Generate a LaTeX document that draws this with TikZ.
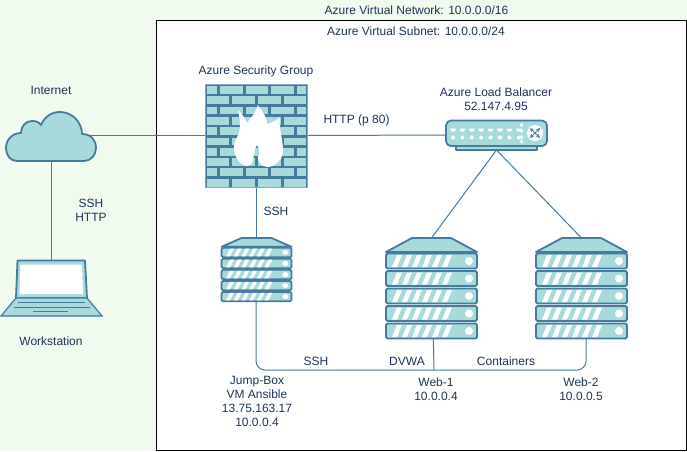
\documentclass[tikz,border=0pt]{standalone}
\usepackage{fontspec}
\setmainfont{Liberation Sans}
\definecolor{dk}{HTML}{457B9D}
\definecolor{lt}{HTML}{A8DADC}
\definecolor{bgg}{HTML}{F1FAEE}
\definecolor{tx}{HTML}{1D3557}
\tikzset{
  anchorbox/.style={inner sep=0pt,outer sep=0pt,draw=none},
  lbl/.style={inner sep=0pt,text=tx,font=\fontsize{12}{14}\selectfont,align=center},
  conn/.style={draw=dk,line width=1pt},
  iconpart/.style={fill=lt,draw=dk,line width=1.8pt,line join=round},
  whitepart/.style={fill=white,draw=none},
  brick/.style={fill=lt,draw=none},
}
\newcommand{\myserver}[4]{% x, ytop, xscale, yscale ; unit 91 wide, 85 tall
  \begin{scope}[shift={(#1,#2)},xscale=#3,yscale=#4]
    \path[iconpart] (0,14) -- (26,0) -- (65,0) -- (91,14) -- cycle;
    \foreach \r in {0,1,2,3,4}{
      \pgfmathsetmacro{\ya}{15.5+17.5*\r}
      \pgfmathsetmacro{\yb}{\ya+15}
      \path[iconpart,rounded corners=1.5pt] (0,\ya) rectangle (91,\yb);
      \foreach \k in {0,1,2,3,4,5}{
        \pgfmathsetmacro{\xa}{6+10*\k}
        \path[whitepart] (\xa,\yb-1.5) -- (\xa+5,\ya+1.5) -- (\xa+10,\ya+1.5) -- (\xa+5,\yb-1.5) -- cycle;
      }
      \path[whitepart] (83,\ya+7.5) ellipse [x radius=4,y radius=4];
    }
  \end{scope}
}
\begin{document}
\begin{tikzpicture}[x=1pt,y=-1pt]
\useasboundingbox (0,0) rectangle (687,451);
\fill[bgg] (0,0) rectangle (687,451);
\fill[white] (156.5,20.5) rectangle (686.5,450.5);
\draw[black,line width=1.3pt] (156.5,20.5) rectangle (686.5,450.5);

% named anchor nodes
\node[anchorbox,minimum width=91pt,minimum height=51pt] (cloud) at (51.5,135.5) {};
\node[anchorbox,minimum width=85pt,minimum height=56pt] (laptop) at (51.5,288) {};
\node[anchorbox,minimum width=102pt,minimum height=103pt] (fw) at (256,135.5) {};
\node[anchorbox,minimum width=101pt,minimum height=30pt] (lb) at (496.5,135) {};
\node[anchorbox,minimum width=70pt,minimum height=64pt] (jump) at (256,269.5) {};
\node[anchorbox,minimum width=91pt,minimum height=86pt] (web1) at (431.5,281) {};
\node[anchorbox,minimum width=91pt,minimum height=86pt] (web2) at (581.5,281) {};
\coordinate (bend) at (256,370);
\coordinate (w1b) at (434,370);

% connectors
\draw[conn] (cloud.center) -- (fw.west);
\draw[conn] (cloud.south) -- (laptop.north);
\draw[conn] (fw.east) -- (lb.west);
\draw[conn] (fw.south) -- (jump.north);
\draw[conn] (lb.south) -- (web1.north);
\draw[conn] (lb.south) -- (web2.north);
\draw[conn,rounded corners=9pt] (jump.south) -- (bend) -| (586,324);
\draw[conn] (433,324) -- (w1b);

% cloud
\path[iconpart] (17,161) .. controls (10,161) and (6,155) .. (6,148)
  .. controls (6,139) and (13,133) .. (21,133)
  .. controls (21,126) and (26,121) .. (32,121)
  .. controls (36,121) and (39,122) .. (41,125)
  .. controls (45,116) and (52,112) .. (60,112)
  .. controls (72,112) and (82,122) .. (82,134)
  .. controls (91,134) and (96,140) .. (96,148)
  .. controls (96,155) and (91,161) .. (84,161) -- cycle;

% laptop
\path[iconpart] (17.5,260.5) -- (85,260.5) -- (87,298) -- (16,298) -- cycle;
\path[whitepart] (20.5,264.5) -- (82,264.5) -- (83,294) -- (19.5,294) -- cycle;
\path[fill=lt,draw=lt,line width=.6pt] (16,298) -- (87,298) -- (102,316) -- (1,316) -- cycle;
\draw[dk,line width=1.2pt] (16,298) -- (1,316) -- (102,316) -- (87,298) -- cycle;
\draw[dk,line width=1pt] (18,302) -- (85,302) (14,307) -- (90,307) (33,311.5) -- (68,311.5);

% firewall
\fill[dk] (205,84) rectangle (307,187);
\draw[dk!65,line width=.8pt] (205,84) rectangle (307,187);
\foreach \r in {0,2,4,6,8}{
  \pgfmathsetmacro{\ya}{86+10.3*\r}
  \pgfmathsetmacro{\yb}{\ya+7.8}
  \foreach \xa/\xb in {207/217,220/243,246/268,271/294,297/305.5}
    \path[brick] (\xa,\ya) rectangle (\xb,\yb);
}
\foreach \r in {1,3,5,7,9}{
  \pgfmathsetmacro{\ya}{86+10.3*\r}
  \pgfmathsetmacro{\yb}{\ya+7.8}
  \foreach \xa/\xb in {207/229,232/255,258/281,284/305.5}
    \path[brick] (\xa,\ya) rectangle (\xb,\yb);
}
\path[whitepart] (258,105) .. controls (262,112) and (267,116) .. (267,124)
  .. controls (273,122) and (277,120) .. (280,117)
  .. controls (278,126) and (283,138) .. (283,150)
  .. controls (283,160) and (275,167) .. (267,167)
  .. controls (261,166) and (258,162) .. (258,157)
  .. controls (260,152) and (259,148) .. (257,145)
  .. controls (254,150) and (254,155) .. (253,160)
  .. controls (252,164) and (250,166) .. (247,166)
  .. controls (240,165) and (234,157) .. (234,148)
  .. controls (234,140) and (240,134) .. (240,127)
  .. controls (240,120) and (239,115) .. (238,110)
  .. controls (242,114) and (245,118) .. (247,123)
  .. controls (251,118) and (256,112) .. (258,105) -- cycle;

% load balancer
\path[iconpart] (456,146) rectangle (537,150);
\path[iconpart,rounded corners=5pt] (446,120.5) rectangle (547,146);
\foreach \k in {0,...,7}{
  \pgfmathsetmacro{\xa}{450+9.4*\k}
  \path[whitepart] (\xa,128.5) -- (\xa+6,128.5) -- (\xa+4.5,131.5) -- (\xa+1.5,131.5) -- cycle;
  \path[whitepart] (\xa+3,137.5) circle [radius=2];
}
\foreach \yy in {125,131,137,141.5}
  \path[whitepart] (521.5,\yy) circle [radius=1.9];
\path[whitepart] (535,133) circle [radius=8];
\draw[dk,line width=.8pt,-stealth] (535,133) -- (530,128);
\draw[dk,line width=.8pt,-stealth] (535,133) -- (540,128);
\draw[dk,line width=.8pt,-stealth] (535,133) -- (530,138);
\draw[dk,line width=.8pt,-stealth] (535,133) -- (540,138);

% servers
\myserver{221.5}{238}{0.77}{0.63}
\myserver{386}{238}{1}{1}
\myserver{536}{238}{1}{1}

% labels
\node[lbl] (tnet) at (416.5,10) {Azure Virtual Network: 10.0.0.0/16};
\node[lbl] (tsub) at (416,31) {Azure Virtual Subnet: 10.0.0.0/24};
\node[lbl] (tint) at (51,90) {Internet};
\node[lbl] (tsh) at (91,210.5) {SSH\\HTTP};
\node[lbl] (twork) at (51,341) {Workstation};
\node[lbl] (tasg) at (256,71) {Azure Security Group};
\node[lbl] (thttp) at (356.5,120) {HTTP (p 80)};
\node[lbl] (tlb) at (496,99.5) {Azure Load Balancer\\52.147.4.95};
\node[lbl] (tssh1) at (276,211) {SSH};
\node[lbl] (tjump) at (257,401.5) {Jump-Box\\VM Ansible\\13.75.163.17\\10.0.0.4};
\node[lbl] (tssh2) at (316,361) {SSH};
\node[lbl] (tdvwa) at (407,361) {DVWA};
\node[lbl] (tcont) at (506,361) {Containers};
\node[lbl] (tw1) at (436,389.5) {Web-1\\10.0.0.4};
\node[lbl] (tw2) at (581,389.5) {Web-2\\10.0.0.5};
\end{tikzpicture}
\end{document}
